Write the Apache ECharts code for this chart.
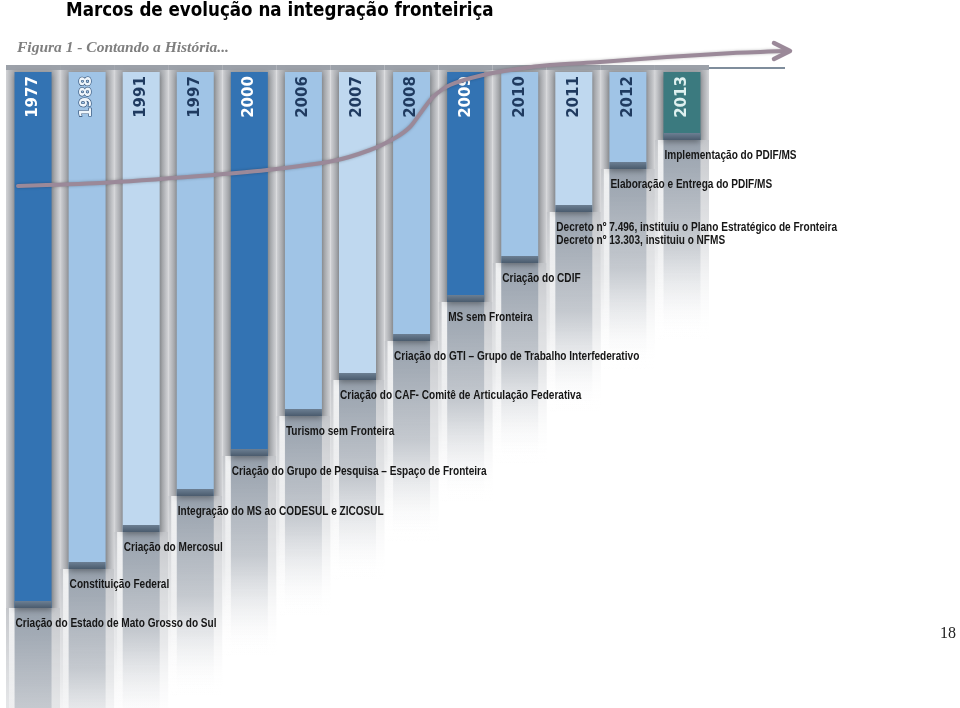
<!DOCTYPE html>
<html>
<head>
<meta charset="utf-8">
<script src="https://cdn.jsdelivr.net/npm/echarts@6/dist/echarts.min.js"></script>
<style>
html,body{margin:0;padding:0;background:#fff;}
#chart{width:960px;height:708px;}
</style>
</head>
<body>
<div id="chart"></div>
<script>
// ---- data ----
const years = ['1977','1988','1991','1997','2000','2006','2007','2008','2009','2010','2011','2012','2013'];
// depth of each hanging bar (timeline reach)
const depths = [536, 497, 460, 424, 384, 344, 308, 269, 230, 191, 140, 97, 68];
const events = [
  'Criação do Estado de Mato Grosso do Sul',
  'Constituição Federal',
  'Criação do Mercosul',
  'Integração do MS ao CODESUL e ZICOSUL',
  'Criação do Grupo de Pesquisa – Espaço de Fronteira',
  'Turismo sem Fronteira',
  'Criação do CAF- Comitê de Articulação Federativa',
  'Criação do GTI – Grupo de Trabalho Interfederativo',
  'MS sem Fronteira',
  'Criação do CDIF',
  'Decreto nº 7.496, instituiu o Plano Estratégico de Fronteira\nDecreto nº 13.303, instituiu o NFMS',
  'Elaboração e Entrega do PDIF/MS',
  'Implementação do PDIF/MS'
];
const titleText = 'Marcos de evolução na integração fronteiriça';
const subtitleText = 'Figura 1 - Contando a História...';
const pageNumber = '18';

// ---- styles ----
const tone = ['dark','mid','light','mid','dark','mid','light','mid','dark','mid','light','mid','teal'];
const palette = {
  dark:  {bar:'#3373b3', text:'#ffffff'},
  mid:   {bar:'#a0c4e6', text:'#1f3a5f'},
  light: {bar:'#bfd8ef', text:'#1f3a5f'},
  teal:  {bar:'#3b7a7f', text:'#dff1f0'}
};

const chart = echarts.init(document.getElementById('chart'), null, {renderer:'canvas'});

function renderItem(params, api){
  const i = api.value(0);
  const v = api.value(1);
  const top = api.coord([i, 0]);
  const bot = api.coord([i, v]);
  const band = api.size([1, 0])[0];
  const cx = top[0], y0 = top[1], y1 = bot[1];
  const bw = 37;
  const bl = cx - bw / 2;
  const st = palette[tone[i]];
  const fade = 200;
  const yearStyle = {
    text: years[i], fill: (i === 1 ? '#eef5fb' : st.text),
    font: 'bold 15px "DejaVu Sans"', align: 'center', verticalAlign: 'middle'
  };
  if (i === 1) { yearStyle.stroke = '#2b4a70'; yearStyle.lineWidth = 1.2; }
  return {
    type: 'group',
    children: [
      // gray pillar backdrop
      {type:'rect', shape:{x: cx - band/2, y: y0 - 7, width: band, height: y1 - y0 + 7},
       style:{fill: new echarts.graphic.LinearGradient(0,0,1,0,[
         {offset:0, color:'#d3d4d7'},{offset:0.07, color:'#babcc0'},{offset:0.16, color:'#a6a9ae'},
         {offset:0.84, color:'#a6a9ae'},{offset:0.93, color:'#babcc0'},{offset:1, color:'#d3d4d7'}])}},
      // top rim
      {type:'rect', shape:{x: cx - band/2, y: y0 - 7, width: band, height: 5},
       style:{fill:'#9ca1a9'}},
      // fading reflection under bar (band wide)
      {type:'rect', shape:{x: cx - band/2, y: y1, width: band, height: fade},
       style:{fill: new echarts.graphic.LinearGradient(0,0,0,1,[
         {offset:0, color:'rgba(198,200,204,1)'},{offset:0.55, color:'rgba(215,217,220,0.6)'},{offset:1, color:'rgba(255,255,255,0)'}])}},
      {type:'rect', shape:{x: cx - band/2 + 3, y: y1, width: 6, height: fade},
       style:{fill: new echarts.graphic.LinearGradient(0,0,0,1,[
         {offset:0, color:'rgba(245,246,247,0.9)'},{offset:1, color:'rgba(255,255,255,0)'}])}},
      // fading reflection under bar (bar wide)
      {type:'rect', shape:{x: bl, y: y1, width: bw, height: fade},
       style:{fill: new echarts.graphic.LinearGradient(0,0,0,1,[
         {offset:0, color:'rgba(150,160,172,1)'},{offset:0.5, color:'rgba(180,186,194,0.65)'},{offset:1, color:'rgba(255,255,255,0)'}])}},
      // the bar
      {type:'rect', shape:{x: bl, y: y0, width: bw, height: y1 - y0},
       style:{fill: st.bar, shadowBlur: 6, shadowColor:'rgba(0,0,0,0.35)', shadowOffsetY: 2}},
      // bottom cap
      {type:'rect', shape:{x: bl, y: y1 - 7, width: bw, height: 7},
       style:{fill: new echarts.graphic.LinearGradient(0,0,0,1,[
         {offset:0, color:'#6c7f93'},{offset:1, color:'#4a5b6d'}])}},
      // year label
      {type:'text', x: cx, y: y0 + 25, rotation: Math.PI/2, style: yearStyle, z2: 50},
      // event label (condensed)
      {type:'text', x: bl + 1, y: y1 + 9, scaleX: 0.8, z2: 100,
       style:{text: events[i], fill:'#161616', font:'bold 12.6px "Liberation Sans", Arial, sans-serif',
              align:'left', verticalAlign:'top', lineHeight: 13}}
    ]
  };
}

const seriesData = years.map((y, i) => [i, depths[i]]);

chart.setOption({
  animation: false,
  grid: {left: 6, right: 251, top: 72, height: 636},
  xAxis: {type:'category', data: years, show: false},
  yAxis: {type:'value', inverse: true, min: 0, max: 636, show: false},
  title: [
    {text: titleText, left: 61, top: -3,
     textStyle:{fontFamily:'"DejaVu Sans Condensed", "DejaVu Sans"', fontWeight:'bold', fontSize:18.6, color:'#000'}},
    {text: subtitleText, left: 12, top: 35,
     textStyle:{fontFamily:'"Liberation Serif"', fontStyle:'italic', fontWeight:'bold', fontSize:15.5, color:'#7f7f7f'}},
    {text: pageNumber, left: 935, top: 621,
     textStyle:{fontFamily:'"Liberation Serif"', fontWeight:'normal', fontSize:16, color:'#222'}}
  ],
  graphic: [
    {type:'line', shape:{x1: 700, y1: 68, x2: 785, y2: 68}, style:{stroke:'#7f8d9c', lineWidth: 2}, z: 1},
    {type:'polyline', z: 10,
     shape:{smooth: 0.25, points:[[18,186],[100,183],[200,176],[267,170],[333,161],[370,150],[395,138],[410,127],[422,111],[433,97],[450,85],[483,75],[517,69],[550,65],[600,62],[667,57],[733,53],[787,51]]},
     style:{stroke:'#9b8999', lineWidth: 4, lineCap:'round', fill: null, shadowBlur: 3, shadowColor:'rgba(0,0,0,0.25)'}},
    {type:'polyline', z: 10,
     shape:{points:[[774,43],[790,51],[774,59]]},
     style:{stroke:'#9b8999', lineWidth: 4.5, lineCap:'round', lineJoin:'round', fill: null}}
  ],
  series: [{
    type: 'custom',
    renderItem: renderItem,
    data: seriesData,
    encode: {x: 0, y: 1},
    clip: false
  }]
});
</script>
</body>
</html>
